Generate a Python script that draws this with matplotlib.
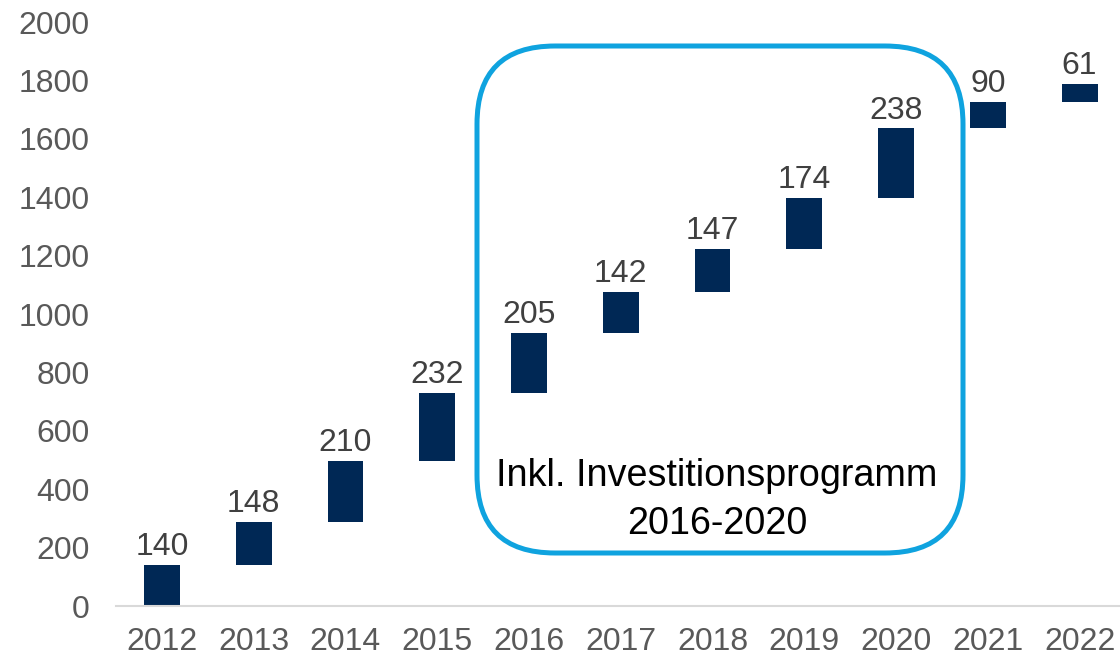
import numpy as np
import matplotlib.pyplot as plt
from matplotlib.patches import FancyBboxPatch

plt.rcParams['font.family'] = ['Liberation Sans', 'DejaVu Sans']

years = ['2012', '2013', '2014', '2015', '2016', '2017', '2018', '2019', '2020', '2021', '2022']
increments = [140, 148, 210, 232, 205, 142, 147, 174, 238, 90, 61]
box_text = 'Inkl. Investitionsprogramm\n2016-2020'

bottoms = np.concatenate([[0], np.cumsum(increments)[:-1]])
x = np.arange(len(years))

fig = plt.figure(figsize=(11.2, 6.58), dpi=100)
ax = fig.add_axes([116 / 1120, 52 / 658, 1004 / 1120, 584 / 658])

ax.bar(x, increments, bottom=bottoms, width=0.39, color='#002855')
for xi, b, v in zip(x, bottoms, increments):
    ax.annotate(str(v), (xi, b + v), xytext=(0, 7), textcoords='offset points',
                ha='center', va='baseline', fontsize=23, color='#404040')

ax.set_xlim(-0.5, 10.44)
ax.set_ylim(0, 2000)
ax.set_yticks(range(0, 2001, 200))
ax.set_xticks(x)
ax.set_xticklabels(years)
ax.tick_params(axis='both', length=0, labelsize=23, labelcolor='#595959')
ax.tick_params(axis='x', pad=15)
ax.tick_params(axis='y', pad=19)
for s in ['top', 'right', 'left']:
    ax.spines[s].set_visible(False)
ax.spines['bottom'].set_color('#d9d9d9')
ax.spines['bottom'].set_linewidth(1.5)

# rounded box in pixel coordinates of the figure
x0, y0, x1, y1 = 477, 46, 963, 553
r = 78
W, H = 1120, 658
box = FancyBboxPatch(((x0 + r) / W, 1 - (y1 - r) / H), (x1 - x0 - 2 * r) / W, (y1 - y0 - 2 * r) / H,
                     boxstyle='round,pad=%f,rounding_size=%f' % (r / W, r / W),
                     transform=fig.transFigure, fill=False, edgecolor='#0FA3DF',
                     linewidth=3.6, mutation_aspect=W / H, zorder=5)
fig.patches.append(box)
fig.text(717 / W, 1 - 500 / H, box_text, ha='center', va='center', fontsize=27.2,
         color='black', linespacing=1.42)

plt.savefig('out.png', dpi=100)
